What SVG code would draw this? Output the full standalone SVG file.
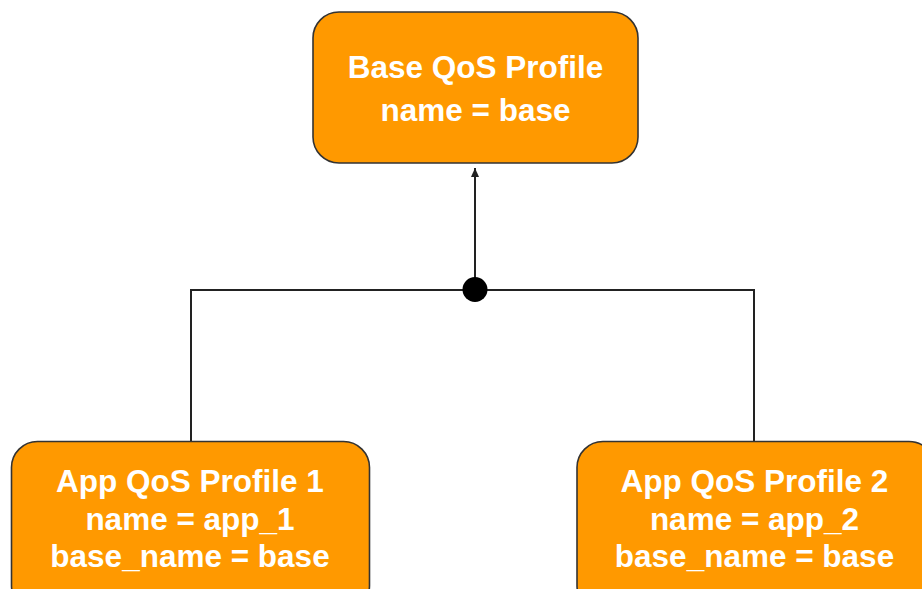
<svg xmlns="http://www.w3.org/2000/svg" width="922" height="589" viewBox="0 0 922 589">
<style>
.box{fill:#FF9900;stroke:#333333;stroke-width:1.6}
.t{font-family:"Liberation Sans",Arial,sans-serif;font-weight:bold;font-size:31.5px;fill:#FFFFFF;text-anchor:middle}
.c{fill:none;stroke:#222222;stroke-width:2}
</style>
<defs>
<marker id="arr" markerWidth="10" markerHeight="8" refX="9" refY="4" orient="auto" markerUnits="userSpaceOnUse" viewBox="0 0 10 8">
<path d="M0,0 L9,4 L0,8 Z" fill="#222222"/>
</marker>
</defs>
<g id="connectors">
<path class="c" d="M191,441 V290 H754 V441"/>
<line class="c" x1="475" y1="290" x2="475" y2="168" marker-end="url(#arr)"/>
<circle cx="475" cy="289.5" r="12.5" fill="#000000"/>
</g>
<g id="base">
<rect class="box" x="313" y="12" width="325" height="151" rx="26"/>
<text class="t" x="475.5" y="78">Base QoS Profile</text>
<text class="t" x="475.5" y="120.5">name = base</text>
</g>
<g id="app1">
<rect class="box" x="11.5" y="441.5" width="358" height="170" rx="26"/>
<text class="t" x="190" y="492">App QoS Profile 1</text>
<text class="t" x="190" y="530">name = app_1</text>
<text class="t" x="190" y="567">base_name = base</text>
</g>
<g id="app2">
<rect class="box" x="577" y="441.5" width="358" height="170" rx="26"/>
<text class="t" x="754.5" y="492">App QoS Profile 2</text>
<text class="t" x="754.5" y="530">name = app_2</text>
<text class="t" x="754.5" y="567">base_name = base</text>
</g>
</svg>
